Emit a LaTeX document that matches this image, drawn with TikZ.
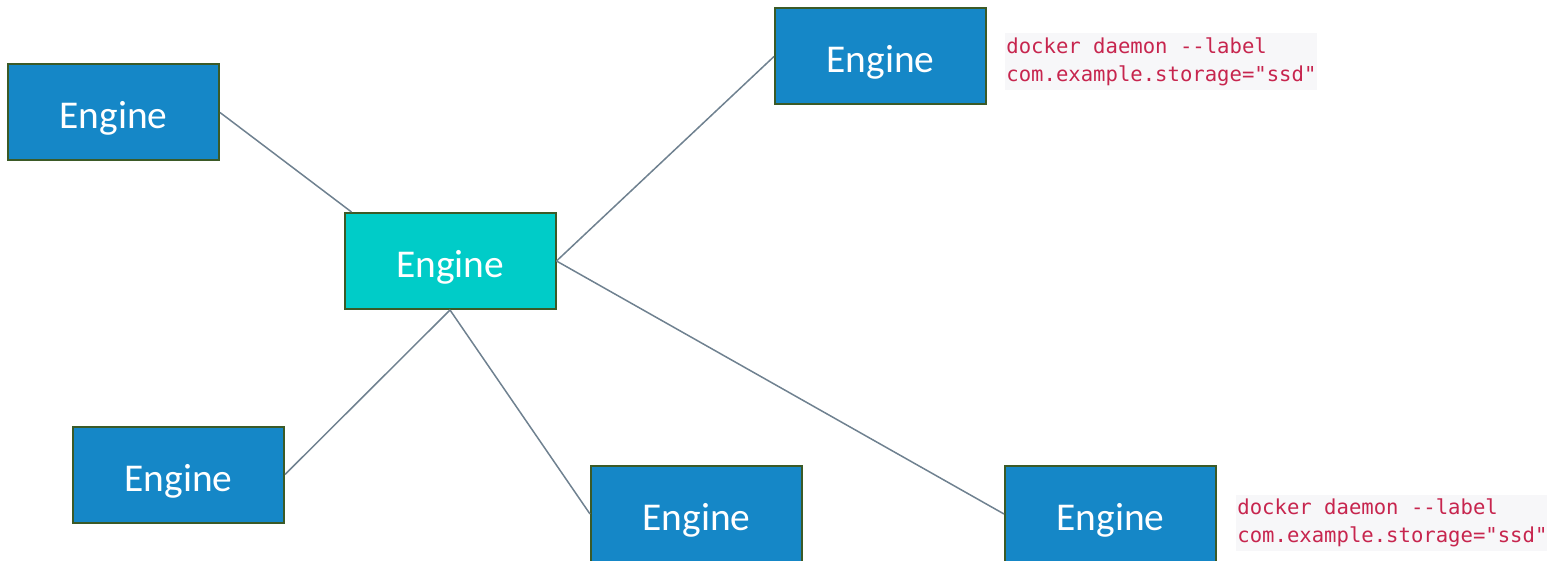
\documentclass[tikz,border=0pt]{standalone}
\usepackage{fontspec}
\setmainfont{Carlito}
\newfontfamily\codefont{DejaVu Sans Mono}
\usetikzlibrary{positioning}
\definecolor{engineblue}{HTML}{1587C7}
\definecolor{enginecyan}{HTML}{00CCC8}
\definecolor{engineborder}{HTML}{3B5A27}
\definecolor{linkgray}{HTML}{6F8190}
\definecolor{codered}{HTML}{C7254E}
\definecolor{codebg}{HTML}{F7F7F9}

\begin{document}
\begin{tikzpicture}[x=0.5pt,y=-0.5pt]
\tikzset{vertex/.style = {shape=rectangle,draw=engineborder,line width=1pt,fill=engineblue,
  minimum width=105.5pt,minimum height=48pt,text=white,text height=20.5pt,text depth=4pt,
  font=\fontsize{19.7}{24}\selectfont}}
\tikzset{edge/.style = {draw=linkgray,line width=0.75pt}}
\tikzset{cmd/.style = {fill=codebg,text=codered,align=left,inner xsep=0.5pt,inner ysep=2pt,
  font=\codefont\fontsize{10.3}{14}\selectfont}}
\useasboundingbox (0,0) rectangle (1547,561);
% vertices
\node[vertex] (a) at (113.5,112.5) {Engine};
\node[vertex, fill=enginecyan] (b) at (450,261) {Engine};
\node[vertex] (c) at (880.5,56.5) {Engine};
\node[vertex] (d) at (178.5,474.5) {Engine};
\node[vertex] (e) at (696.5,514) {Engine};
\node[vertex] (f) at (1110.5,514) {Engine};
% labels
\node[cmd, right=9pt of c, yshift=-2.5pt] (lc) {docker daemon --label\\com.example.storage="ssd"};
\node[cmd, right=9.5pt of f, yshift=-4.5pt] (lf) {docker daemon --label\\com.example.storage="ssd"};
%edges
\draw[edge] (a.east) -- ([xshift=4pt]b.north west);
\draw[edge] (b.east) -- (c.west);
\draw[edge] (b.south) -- (d.east);
\draw[edge] (b.south) -- (e.west);
\draw[edge] (b.east) -- (f.west);
\end{tikzpicture}
\end{document}
